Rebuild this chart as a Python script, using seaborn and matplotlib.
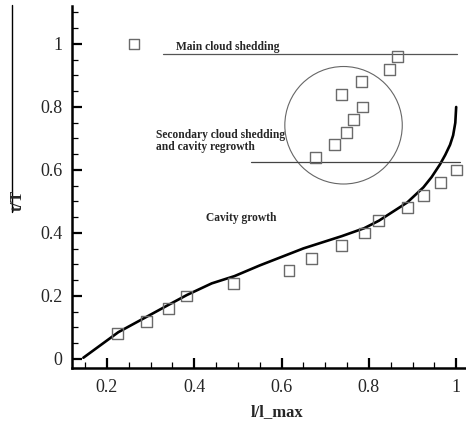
import matplotlib
matplotlib.use("Agg")
import matplotlib.pyplot as plt
from matplotlib.patches import Ellipse
from matplotlib.lines import Line2D
from matplotlib.ticker import MultipleLocator, FixedLocator
import numpy as np
import pandas as pd
import seaborn as sns

# Experimental cavity length vs. time within one shedding cycle
exp_l = [0.225, 0.29, 0.34, 0.383, 0.49, 0.617, 0.669, 0.738, 0.789, 0.823,
         0.888, 0.925, 0.965, 1.0, 0.677, 0.722, 0.749, 0.764, 0.786, 0.737,
         0.783, 0.847, 0.865, 0.262]
exp_t = [0.08, 0.12, 0.16, 0.20, 0.24, 0.28, 0.32, 0.36, 0.40, 0.44,
         0.48, 0.52, 0.56, 0.60, 0.64, 0.68, 0.72, 0.76, 0.80, 0.84,
         0.88, 0.92, 0.96, 1.00]

# Simulated growth curve
sim_l = [0.146, 0.226, 0.291, 0.34, 0.383, 0.44, 0.492, 0.55, 0.65, 0.738,
         0.789, 0.823, 0.888, 0.925, 0.944, 0.963, 0.975, 0.986, 0.993,
         0.998, 1.0]
sim_t = [0.004, 0.085, 0.134, 0.171, 0.203, 0.24, 0.263, 0.297, 0.351, 0.39,
         0.415, 0.439, 0.497, 0.545, 0.578, 0.618, 0.648, 0.68, 0.71,
         0.75, 0.80]

# Stage boundaries
main_shedding_t = 0.967
secondary_t = 0.624

sns.set_style("ticks")
plt.rcParams["font.family"] = ["Liberation Serif", "DejaVu Serif"]

fig = plt.figure(figsize=(4.66, 4.24), dpi=100)
ax = fig.add_axes([72 / 466, 1 - 368 / 424, 1 - 72 / 466, (368 - 6) / 424])

exp_df = pd.DataFrame({"l": exp_l, "t": exp_t})
sim_df = pd.DataFrame({"l": sim_l, "t": sim_t})

sns.lineplot(data=sim_df, x="l", y="t", sort=False, estimator=None,
             color="black", linewidth=1.9, ax=ax)
sns.scatterplot(data=exp_df, x="l", y="t", marker="s", s=62,
                facecolor="none", edgecolor="#6a6a6a", linewidth=1.0, ax=ax,
                zorder=3)

ax.plot([0.328, 1.002], [main_shedding_t, main_shedding_t],
        color="#555555", linewidth=0.9)
ax.plot([0.529, 1.009], [secondary_t, secondary_t],
        color="#444444", linewidth=0.9)
ax.add_patch(Ellipse((0.742, 0.742), width=0.269, height=0.373,
                     fill=False, edgecolor="#666666", linewidth=0.8))

ax.text(0.477, 0.991, "Main cloud shedding", ha="center", va="center",
        fontsize=8.3, fontweight="bold")
ax.text(0.312, 0.692, "Secondary cloud shedding\nand cavity regrowth",
        ha="left", va="center", fontsize=8.3, fontweight="bold",
        linespacing=0.95)
ax.text(0.508, 0.448, "Cavity growth", ha="center", va="center",
        fontsize=8.3, fontweight="bold")

ax.set_xlim(0.12, 1.0225)
ax.set_ylim(-0.0286, 1.1206)
ax.xaxis.set_major_locator(FixedLocator([0.2, 0.4, 0.6, 0.8, 1.0]))
ax.xaxis.set_minor_locator(MultipleLocator(0.05))
ax.yaxis.set_major_locator(FixedLocator([0, 0.2, 0.4, 0.6, 0.8, 1.0]))
ax.yaxis.set_minor_locator(MultipleLocator(0.05))
ax.set_xticklabels(["0.2", "0.4", "0.6", "0.8", "1"])
ax.set_yticklabels(["0", "0.2", "0.4", "0.6", "0.8", "1"])

ax.tick_params(which="major", direction="in", length=7, width=1.6,
               labelsize=13, color="black")
ax.tick_params(which="minor", direction="in", length=4, width=0.9,
               color="black")
ax.tick_params(axis="x", which="major", pad=8)
ax.tick_params(axis="y", which="major", pad=7)

for side in ("top", "right"):
    ax.spines[side].set_visible(False)
for side in ("left", "bottom"):
    ax.spines[side].set_linewidth(1.8)
    ax.spines[side].set_color("black")

ax.set_xlabel("")
ax.set_ylabel("")
fig.text(277 / 466, 1 - 412 / 424, "l/l_max", ha="center", va="center",
         fontsize=12, fontweight="bold")
fig.text(18 / 466, 1 - 200 / 424, "t/T", ha="center", va="center",
         rotation=90, fontsize=12, fontweight="bold")
fig.add_artist(Line2D([11.5 / 466, 11.5 / 466], [1 - 5 / 424, 1 - 212 / 424],
                      transform=fig.transFigure, color="black",
                      linewidth=1.0))

fig.savefig("out.png", dpi=100)
